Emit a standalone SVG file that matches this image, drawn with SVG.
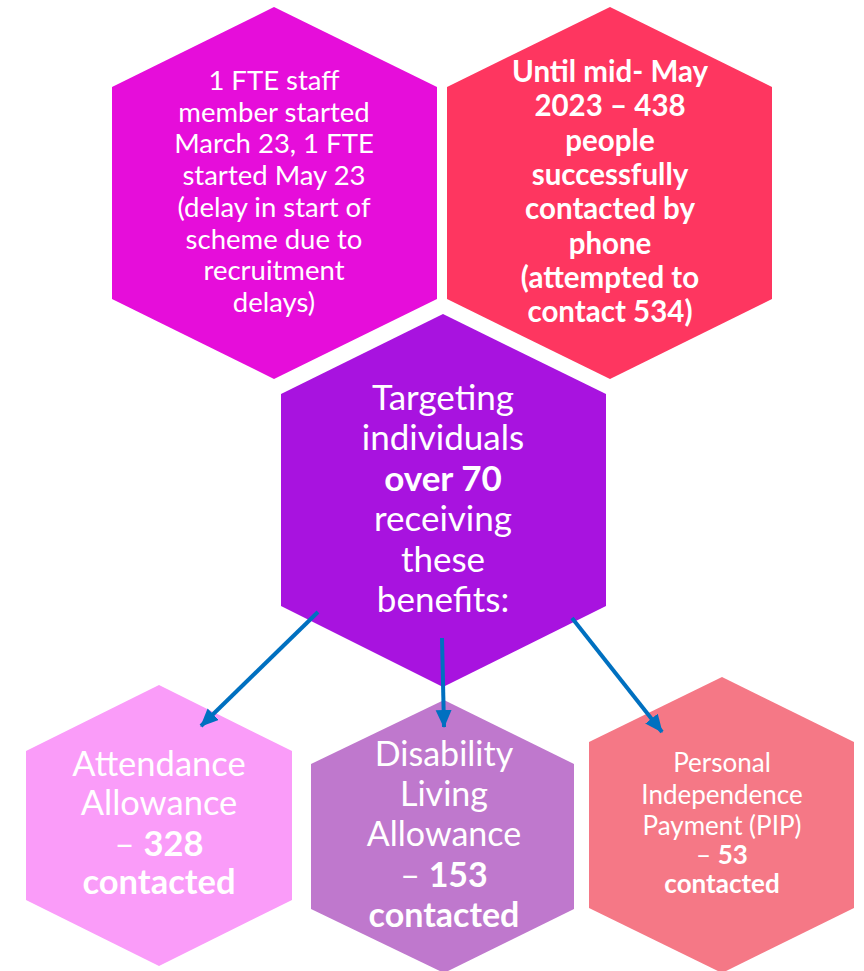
<svg xmlns="http://www.w3.org/2000/svg" width="864" height="971" viewBox="0 0 864 971">
<style>
text{font-family:Lato,"Open Sans","Liberation Sans",sans-serif;fill:#fff;text-anchor:middle}
.b{font-weight:bold}
.c{stroke:#0070C0;stroke-width:4;fill:none}
</style>
<defs>
<marker id="ah" markerUnits="userSpaceOnUse" markerWidth="20" markerHeight="18" refX="17" refY="8" orient="auto">
<path d="M0,0 L18,8 L0,16 Z" fill="#0070C0"/>
</marker>
</defs>
<rect width="864" height="971" fill="#fff"/>
<g id="staff">
<polygon points="274,7 437,87 437,299 274,379 112,299 112,87" fill="#E60DDA"/>
<text font-size="27.5"><tspan x="274" y="90">1 FTE staff</tspan><tspan x="274" y="121.7">member started</tspan><tspan x="274" y="153.4">March 23, 1 FTE</tspan><tspan x="274" y="185.1">started May 23</tspan><tspan x="274" y="216.8">(delay in start of</tspan><tspan x="274" y="248.5">scheme due to</tspan><tspan x="274" y="280.2">recruitment</tspan><tspan x="274" y="312">delays)</tspan></text>
</g>
<g id="contacted">
<polygon points="610,7 772,87 772,299 610,379 447,299 447,87" fill="#FE3660"/>
<text class="b" font-size="29.5"><tspan x="610" y="82">Until mid- May</tspan><tspan x="610" y="116.3">2023 – 438</tspan><tspan x="610" y="150.6">people</tspan><tspan x="610" y="184.9">successfully</tspan><tspan x="610" y="219.2">contacted by</tspan><tspan x="610" y="253.5">phone</tspan><tspan x="610" y="287.8">(attempted to</tspan><tspan x="610" y="322">contact 534)</tspan></text>
</g>
<g id="target">
<polygon points="443,314 606,394 606,606 443,687 281,606 281,394" fill="#A813DF"/>
<text font-size="35"><tspan x="443" y="410">Targeting</tspan><tspan x="443" y="450.4">individuals</tspan><tspan x="443" y="490.8" class="b">over 70</tspan><tspan x="443" y="531.2">receiving</tspan><tspan x="443" y="571.6">these</tspan><tspan x="443" y="612">benefits:</tspan></text>
</g>
<g id="aa">
<polygon points="159,685 292,751 292,900 159,966 26,900 26,751" fill="#FA9CF9"/>
<text font-size="34.5"><tspan x="159" y="776">Attendance</tspan><tspan x="159" y="815">Allowance</tspan><tspan x="159" y="856">– <tspan class="b">328</tspan></tspan><tspan x="159" y="894" class="b">contacted</tspan></text>
</g>
<g id="dla">
<polygon points="444,700 574,764 574,909 444,973 311,909 311,764" fill="#BF78CD"/>
<text font-size="34"><tspan x="444" y="766">Disability</tspan><tspan x="444" y="806">Living</tspan><tspan x="444" y="846">Allowance</tspan><tspan x="444" y="887">– <tspan class="b">153</tspan></tspan><tspan x="444" y="927" class="b">contacted</tspan></text>
</g>
<g id="pip">
<polygon points="722,677 854,742 854,908 722,973 589,908 589,742" fill="#F57886"/>
<text font-size="26"><tspan x="722" y="772">Personal</tspan><tspan x="722" y="803.5">Independence</tspan><tspan x="722" y="835">Payment (PIP)</tspan><tspan x="722" y="864">– <tspan class="b">53</tspan></tspan><tspan x="722" y="893" class="b">contacted</tspan></text>
</g>
<g id="connectors">
<line class="c" x1="318" y1="612" x2="201" y2="726" marker-end="url(#ah)"/>
<line class="c" x1="442" y1="638" x2="444" y2="727" marker-end="url(#ah)"/>
<line class="c" x1="572" y1="618" x2="662" y2="732" marker-end="url(#ah)"/>
</g>
</svg>
